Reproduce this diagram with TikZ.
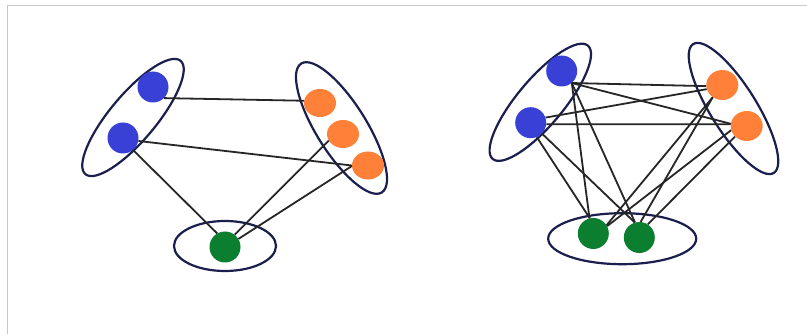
\documentclass[tikz,border=0pt]{standalone}
\usetikzlibrary{shapes.geometric}

\definecolor{dotblue}{RGB}{57,64,214}
\definecolor{dotorange}{RGB}{255,128,56}
\definecolor{dotgreen}{RGB}{12,126,48}
\definecolor{ringnavy}{RGB}{26,31,78}
\definecolor{framegray}{RGB}{200,200,200}

\tikzset{
  dot/.style={circle, inner sep=0pt, minimum size=31pt, draw=none},
  bluedot/.style={dot, fill=dotblue},
  greendot/.style={dot, fill=dotgreen},
  orangedot/.style={ellipse, inner sep=0pt, minimum width=32pt, minimum height=28pt, draw=none, fill=dotorange},
  group/.style={ellipse, inner sep=0pt, draw=ringnavy, line width=2.2pt},
  link/.style={draw=black!85, line width=1.8pt},
  frameline/.style={draw=framegray, line width=1pt}
}

\begin{document}
\begin{tikzpicture}[x=1pt, y=-1pt]
  \useasboundingbox (0,0) rectangle (807,334);
  \path[fill=white] (0,0) rectangle (807,334);

  % page frame along top and left
  \draw[frameline] (7,334) -- (7,6) -- (807,6);

  % ---------- first graph: three parts, a single bottom vertex ----------
  \node[group, minimum width=148pt, minimum height=46pt, rotate=50]  (pa) at (133,117.5) {};
  \node[group, minimum width=152pt, minimum height=50pt, rotate=-58] (pb) at (341.5,128) {};
  \node[group, minimum width=102pt, minimum height=50pt]             (pc) at (225,246) {};

  \node[bluedot]   (a1) at (153,87) {};
  \node[bluedot]   (a2) at (123,138) {};
  \node[orangedot] (b1) at (320,103) {};
  \node[orangedot] (b2) at (343,134) {};
  \node[orangedot] (b3) at (368,165.5) {};
  \node[greendot]  (c1) at (225,247) {};

  \draw[link] (a1.-45) -- (b1.172);
  \draw[link] (a2.-11) -- (b3.180);
  \draw[link] (a2.-50) -- (c1.120);
  \draw[link] (c1.52)  -- (b2.205);
  \draw[link] (c1.31)  -- (b3.182);

  % ---------- second graph: complete tripartite K(2,2,2) ----------
  \node[group, minimum width=148pt, minimum height=46pt, rotate=50]  (qa) at (540.3,102.3) {};
  \node[group, minimum width=152pt, minimum height=46pt, rotate=-58] (qb) at (733.5,108.5) {};
  \node[group, minimum width=148pt, minimum height=51pt]             (qc) at (622.2,238.7) {};

  \node[bluedot]   (u1) at (561.7,71) {};
  \node[bluedot]   (u2) at (530.7,122.7) {};
  \node[orangedot, minimum width=32pt, minimum height=30pt] (v1) at (722.3,85) {};
  \node[orangedot, minimum width=32pt, minimum height=30pt] (v2) at (746.7,126) {};
  \node[greendot]  (w1) at (593.3,233.5) {};
  \node[greendot]  (w2) at (639.3,237.5) {};

  \draw[link] (u1.-50) -- (v1.184);
  \draw[link] (u1.-50) -- (v2.172);
  \draw[link] (u1.-50) -- (w1.104);
  \draw[link] (u1.-50) -- (w2.106);
  \draw[link] (u2.19)  -- (v1.195);
  \draw[link] (u2.-6)  -- (v2.174);
  \draw[link] (u2.-67) -- (w1.103);
  \draw[link] (u2.-44) -- (w2.107);
  \draw[link] (v1.232) -- (w1.32);
  \draw[link] (v1.232) -- (w2.85);
  \draw[link] (v2.195) -- (w1.28);
  \draw[link] (v2.222) -- (w2.57);
\end{tikzpicture}
\end{document}
